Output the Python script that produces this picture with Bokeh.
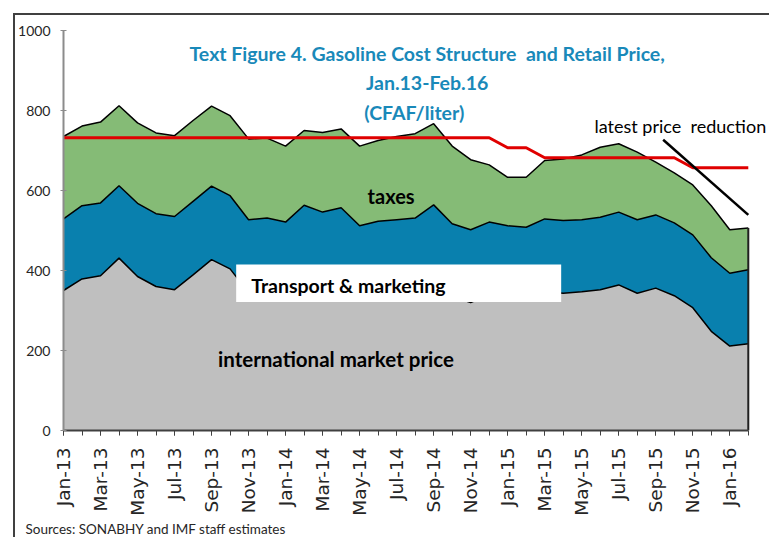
import numpy as np
from bokeh.plotting import figure
from bokeh.models import ColumnDataSource, FixedTicker, Label, BoxAnnotation, Title
from bokeh.embed import file_html
from bokeh.resources import INLINE

months = ["Jan-13","Feb-13","Mar-13","Apr-13","May-13","Jun-13","Jul-13","Aug-13","Sep-13","Oct-13","Nov-13","Dec-13",
          "Jan-14","Feb-14","Mar-14","Apr-14","May-14","Jun-14","Jul-14","Aug-14","Sep-14","Oct-14","Nov-14","Dec-14",
          "Jan-15","Feb-15","Mar-15","Apr-15","May-15","Jun-15","Jul-15","Aug-15","Sep-15","Oct-15","Nov-15","Dec-15",
          "Jan-16","Feb-16"]
international = [350,379,387,431,385,360,352,389,427,404,345,349,339,381,364,375,330,341,347,349,382,335,320,339,
                 330,326,347,343,347,352,364,343,356,337,307,248,211,217]
transport = [179,183,182,181,183,182,183,184,184,183,182,182,182,182,182,182,182,182,180,182,182,182,182,182,
             182,182,182,182,180,181,182,184,183,182,182,184,182,185]
taxes = [206,199,202,200,201,202,202,202,200,200,202,200,190,187,199,197,199,202,208,211,203,194,175,143,
         121,125,146,154,162,175,171,169,132,125,125,130,109,104]
retail = [732]*24 + [707]*2 + [682]*8 + [657]*4
reduction_x = [32.4, 37.0]
reduction_y = [727, 539]
y_ticks = [0, 200, 400, 600, 800, 1000]

x = np.arange(len(months))
s1 = np.array(international)
s2 = s1 + np.array(transport)
s3 = s2 + np.array(taxes)
src = ColumnDataSource(dict(x=x, intl=international, transport=transport, taxes=taxes,
                            s1=s1, s2=s2, s3=s3, retail=retail))

GRAY = "#bfbfbf"
BLUE = "#0980ae"
GREEN = "#85bb76"
RED = "#e00000"
TITLE = "#1989b9"
FONT = "Lato"

p = figure(width=756, height=524, x_range=(0, 38.2), y_range=(0, 1000),
           output_backend="svg", toolbar_location=None,
           min_border_left=48, min_border_right=1, min_border_top=15, min_border_bottom=109,
           styles={"margin": "13px 0 0 13px", "border-top": "2px solid #404040",
                   "border-left": "2px solid #404040"})
p.outline_line_color = None
p.xgrid.visible = False
p.ygrid.visible = False
p.background_fill_color = "white"

p.varea_stack(["intl", "transport", "taxes"], x="x", color=[GRAY, BLUE, GREEN], source=src)
for col in ["s1", "s2", "s3"]:
    p.line("x", col, source=src, line_color="black", line_width=1.5)
p.segment(x0=[x[-1]], y0=[0], x1=[x[-1]], y1=[s3[-1]], line_color="#202020", line_width=2)
p.line("x", "retail", source=src, line_color=RED, line_width=3)
p.line(reduction_x, reduction_y, line_color="black", line_width=2.5)

box = BoxAnnotation(left=9.33, right=26.89, bottom=321, top=415, fill_color="white", fill_alpha=1,
                    line_color=None, level="annotation")
p.add_layout(box)

# axes
p.yaxis.ticker = FixedTicker(ticks=y_ticks)
p.yaxis.axis_line_color = "#8c8c8c"
p.yaxis.axis_line_width = 2
p.yaxis.major_tick_line_color = "#8c8c8c"
p.yaxis.major_tick_out = 3
p.yaxis.major_tick_in = 3
p.yaxis.minor_tick_line_color = None
p.yaxis.major_label_text_font = FONT
p.yaxis.major_label_text_font_size = "14px"
p.yaxis.major_label_text_color = "#262626"
p.yaxis.major_label_standoff = 10

even = list(range(0, len(months), 2))
p.xaxis.ticker = FixedTicker(ticks=even, minor_ticks=list(range(len(months))))
p.xaxis.bounds = (0, len(months) - 1)
p.xaxis.major_label_overrides = {int(i): months[i] for i in even}
p.xaxis.major_label_orientation = np.pi / 2
p.xaxis.axis_line_color = "#404040"
p.xaxis.axis_line_width = 2
p.xaxis.major_tick_line_color = "#404040"
p.xaxis.minor_tick_line_color = "#404040"
p.xaxis.major_tick_out = 5
p.xaxis.major_tick_in = 0
p.xaxis.minor_tick_out = 5
p.xaxis.minor_tick_in = 0
p.xaxis.major_label_text_font = "DejaVu Sans"
p.xaxis.major_label_text_font_size = "18.5px"
p.xaxis.major_label_text_color = "#262626"
p.xaxis.major_label_standoff = 12

def lab(text, xv, yv, size, bold=True, color="black", align="left"):
    p.add_layout(Label(x=xv, y=yv, text=text, text_font=FONT, text_font_size=size,
                       text_font_style="bold" if bold else "normal", text_color=color,
                       text_align=align, text_baseline="middle"))

lab("Text Figure 4. Gasoline Cost Structure\u00a0 and Retail Price,", 19.65, 942, "19.5px", color=TITLE, align="center")
lab("Jan.13-Feb.16", 19.65, 870, "19.5px", color=TITLE, align="center")
lab("(CFAF/liter)", 18.95, 795, "19.5px", color=TITLE, align="center")
lab("taxes", 17.7, 587, "20px", align="center")
lab("Transport & marketing", 10.14, 362, "19.5px")
lab("international market price", 8.35, 180, "20.5px")
lab("latest price\u00a0 reduction", 28.69, 762, "18px", bold=False)

src_title = Title(text="Sources: SONABHY and IMF staff estimates", align="left", offset=-38,
                  text_font=FONT, text_font_size="13.5px", text_font_style="normal",
                  text_color="#262626", standoff=1)
p.add_layout(src_title, "below")

open("out.html", "w").write(file_html(p, INLINE))
